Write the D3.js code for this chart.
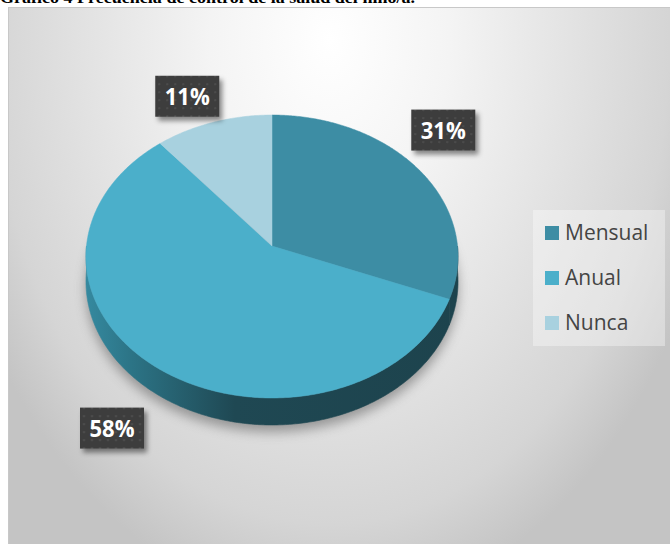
<!DOCTYPE html>
<html><head><meta charset="utf-8">
<script src="https://cdn.jsdelivr.net/npm/d3@7"></script>
<style>html,body{margin:0;padding:0;background:#fff;overflow:hidden}</style>
</head><body>
<svg id="c" width="670" height="544"></svg>
<script>
// ---- data ----
const categories = ["Mensual", "Anual", "Nunca"];
const values = [31, 58, 11];
const labels = ["31%", "58%", "11%"];
const title = "Gráfico 4 Frecuencia de control de la salud del niño/a.";

// ---- layout ----
const W = 670, H = 544;
const colors = ["#3d8da4", "#4bafca", "#a8d1df"];
const cx = 272, cy = 246, R = 185.5, Ry = 140.7, k = 0.0742, depth = 25;
const labelOffsets = [[24, -40], [-44, 61], [-26, -26]];

const svg = d3.select("#c");
const defs = svg.append("defs");

// background gradient
const bg = defs.append("radialGradient").attr("id", "bg")
  .attr("gradientUnits", "userSpaceOnUse")
  .attr("cx", 330).attr("cy", 40).attr("r", 570)
  .attr("gradientTransform", "translate(330,40) scale(0.7,1) translate(-330,-40)");
bg.append("stop").attr("offset", 0).attr("stop-color", "#ffffff");
bg.append("stop").attr("offset", 0.3).attr("stop-color", "#f4f4f4");
bg.append("stop").attr("offset", 0.85).attr("stop-color", "#d5d5d5");
bg.append("stop").attr("offset", 1).attr("stop-color", "#c4c4c4");

// side gradient
const sg = defs.append("linearGradient").attr("id", "side")
  .attr("gradientUnits", "userSpaceOnUse")
  .attr("x1", cx - R).attr("x2", cx + R).attr("y1", 0).attr("y2", 0);
[[0, "#35899f"], [0.12, "#2c7486"], [0.4, "#1f4853"], [1, "#1d434d"]]
  .forEach(([o, c]) => sg.append("stop").attr("offset", o).attr("stop-color", c));

// shadow filters
const sh = defs.append("filter").attr("id", "pieShadow")
  .attr("x", -0.2).attr("y", -0.2).attr("width", 1.4).attr("height", 1.5);
sh.append("feGaussianBlur").attr("stdDeviation", 6);

const bs = defs.append("filter").attr("id", "boxShadow")
  .attr("x", -0.3).attr("y", -0.3).attr("width", 1.7).attr("height", 1.7);
bs.append("feDropShadow").attr("dx", 3).attr("dy", 4).attr("stdDeviation", 2.5)
  .attr("flood-color", "#000").attr("flood-opacity", 0.45);

const pat = defs.append("pattern").attr("id", "dots")
  .attr("patternUnits", "userSpaceOnUse").attr("width", 8).attr("height", 8);
pat.append("rect").attr("width", 8).attr("height", 8).attr("fill", "#3c3c3c");
pat.append("circle").attr("cx", 4).attr("cy", 4).attr("r", 1.3).attr("fill", "#4b4b4b");

// title (cut off at top, as in the source)
svg.append("text").attr("x", 0).attr("y", 3)
  .attr("font-family", "Liberation Serif, Times New Roman, serif")
  .attr("font-weight", "bold").attr("font-size", 17)
  .attr("textLength", 415).attr("lengthAdjust", "spacingAndGlyphs")
  .attr("fill", "#000").text(title);

// chart area
svg.append("rect").attr("x", 8.5).attr("y", 7.5).attr("width", W).attr("height", H)
  .attr("fill", "url(#bg)").attr("stroke", "#c8c8c8").attr("stroke-width", 1);

// projection
function proj(a, d) {
  const u = Math.sin(a), v = -Math.cos(a);
  const w = 1 / (1 - k * v);
  return [cx + R * u * w, cy + Ry * v * w + (d ? depth * w : 0)];
}
function arcPts(a0, a1, d) {
  const n = Math.max(2, Math.ceil(Math.abs(a1 - a0) / 0.01));
  return d3.range(n + 1).map(i => proj(a0 + (a1 - a0) * i / n, d));
}
const line = d3.line();

const pie = d3.pie().sort(null).value(d => d)(values);

// pie shadow
const full = arcPts(0, 2 * Math.PI, true);
svg.append("path").attr("d", line(full) + "Z")
  .attr("transform", "translate(0,7)")
  .attr("fill", "#666").attr("opacity", 0.6).attr("filter", "url(#pieShadow)");

// side walls
const g = svg.append("g");
pie.forEach((p, i) => {
  const a0 = Math.max(p.startAngle, Math.PI / 2), a1 = Math.min(p.endAngle, 3 * Math.PI / 2);
  if (a1 <= a0) return;
  const top = arcPts(a0, a1, false), bot = arcPts(a0, a1, true).reverse();
  g.append("path").attr("d", line(top.concat(bot)) + "Z")
    .attr("fill", "url(#side)").attr("stroke", "url(#side)").attr("stroke-width", 0.6);
});

// top faces
pie.forEach((p, i) => {
  const pts = [[cx, cy]].concat(arcPts(p.startAngle, p.endAngle, false));
  g.append("path").attr("d", line(pts) + "Z")
    .attr("fill", colors[i]).attr("stroke", colors[i]).attr("stroke-width", 0.5);
});

// data labels
pie.forEach((p, i) => {
  const mid = (p.startAngle + p.endAngle) / 2;
  const [x, y] = proj(mid, false);
  const bx = x + labelOffsets[i][0], by = y + labelOffsets[i][1];
  const lg = svg.append("g").attr("transform", `translate(${bx},${by})`);
  lg.append("rect").attr("x", -32).attr("y", -20.5).attr("width", 64).attr("height", 41)
    .attr("fill", "url(#dots)").attr("filter", "url(#boxShadow)");
  lg.append("text").attr("x", 0).attr("y", 8.5).attr("text-anchor", "middle")
    .attr("font-family", "Open Sans, sans-serif").attr("font-weight", "bold")
    .attr("font-size", 23).attr("fill", "#ffffff")
    .attr("textLength", 45).attr("lengthAdjust", "spacingAndGlyphs")
    .text(labels[i]);
});

// legend
const leg = svg.append("g");
leg.append("rect").attr("x", 533).attr("y", 210).attr("width", 132).attr("height", 136)
  .attr("fill", "#ffffff").attr("opacity", 0.35);
categories.forEach((c, i) => {
  const y0 = 226 + i * 45;
  leg.append("rect").attr("x", 545).attr("y", y0).attr("width", 14).attr("height", 14)
    .attr("fill", colors[i]);
  leg.append("text").attr("x", 565).attr("y", y0 + 14)
    .attr("font-family", "Open Sans, sans-serif").attr("font-size", 21)
    .attr("fill", "#444").text(c);
});
</script>
</body></html>
